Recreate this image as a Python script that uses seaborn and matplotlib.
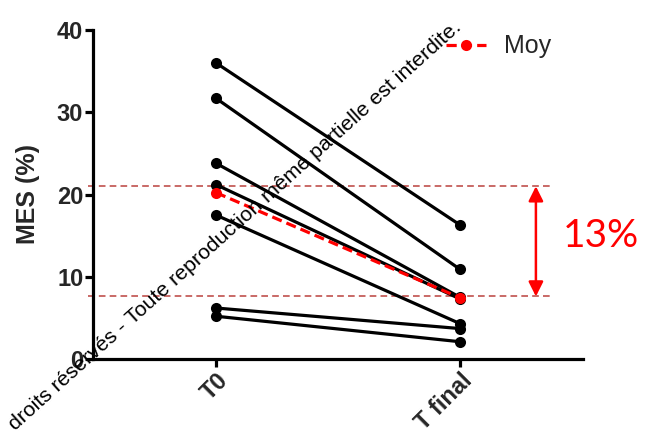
import numpy as np
import pandas as pd
import matplotlib
matplotlib.use('Agg')
import matplotlib.pyplot as plt
import seaborn as sns

# values
times = ['T0', 'T final']
t0_values = [36.0, 31.7, 23.8, 21.2, 17.5, 6.2, 5.2]
tfinal_values = [16.3, 10.9, 7.5, 7.3, 4.3, 3.7, 2.1]
band_hi = 21.0
band_lo = 7.6
band_label = '13%'

# long format table for seaborn
df = pd.DataFrame({
    'subject': list(range(len(t0_values))) * 2,
    'time': [times[0]] * len(t0_values) + [times[1]] * len(tfinal_values),
    'MES': t0_values + tfinal_values,
})

sns.set_theme(style='white')
plt.rcParams['font.family'] = ['Liberation Sans', 'DejaVu Sans']

fig = plt.figure(figsize=(6.47, 4.41), dpi=100)
ax = fig.add_axes([93 / 647, 1 - 359 / 441, 490 / 647, 329 / 441])
ax.patch.set_alpha(0)

# individual subjects
sns.lineplot(data=df, x='time', y='MES', units='subject', estimator=None,
             color='black', marker='o', markersize=8, markeredgewidth=0,
             linewidth=2.3, ax=ax, legend=False, zorder=3)

# mean line
sns.lineplot(data=df, x='time', y='MES', estimator='mean', errorbar=None,
             color='red', marker='o', markersize=8, markeredgewidth=0,
             linewidth=2.3, linestyle=(0, (3.2, 1.6)), ax=ax, label='Moy', zorder=4)

ax.set_xlim(-0.504, 1.504)
ax.set_ylim(0, 40)
ax.set_yticks([0, 10, 20, 30, 40])

# band lines and arrow showing the drop
for yv in [band_hi, band_lo]:
    ax.plot([-0.525, 1.377], [yv, yv], color='#c0504d', linestyle=(0, (4, 2.5)),
            linewidth=1.2, clip_on=False, zorder=2)
ax.annotate('', xy=(1.311, band_hi), xytext=(1.311, band_lo),
            arrowprops=dict(arrowstyle='<|-|>', color='red', lw=1.8,
                            mutation_scale=22, shrinkA=0, shrinkB=0))
ax.text(1.42, (band_hi + band_lo) / 2 + 0.6, band_label, color='red', fontsize=28,
        family='Lato', ha='left', va='center', clip_on=False)

ax.set_xlabel('')
ax.set_ylabel('MES (%)', fontsize=18, fontweight='bold', labelpad=12)
for sp in ['top', 'right']:
    ax.spines[sp].set_visible(False)
for sp in ['left', 'bottom']:
    ax.spines[sp].set_linewidth(2.3)
    ax.spines[sp].set_color('black')
ax.tick_params(axis='both', which='both', length=6, width=2.3, color='black',
               direction='out', left=True, bottom=True, pad=1)
plt.setp(ax.get_yticklabels(), fontsize=17, fontweight='bold')
plt.setp(ax.get_xticklabels(), fontsize=17, fontweight='bold', rotation=45,
         ha='right', va='top', rotation_mode='anchor')

leg = ax.legend(loc='upper left', bbox_to_anchor=(0.675, 1.055), frameon=False,
                fontsize=18, handlelength=1.6, handletextpad=0.7)

# diagonal copyright line (the part visible inside the picture)
fig.text(15 / 647, 1 - 431 / 441,
         'droits réservés - Toute reproduction même partielle est interdite.',
         fontsize=15.3, rotation=42, rotation_mode='anchor', ha='left',
         va='baseline', color='black', zorder=10)

fig.savefig('out.png', dpi=100)
